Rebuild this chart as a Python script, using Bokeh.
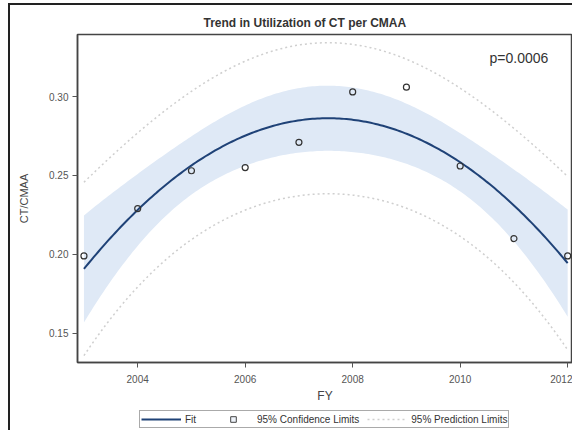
import numpy as np
from bokeh.plotting import figure
from bokeh.layouts import column
from bokeh.models import Legend, LegendItem, FixedTicker, Label, Title, NumeralTickFormatter
from bokeh.embed import file_html
from bokeh.resources import INLINE

# ---- data ----
fy = [2003, 2004, 2005, 2006, 2007, 2008, 2009, 2010, 2011, 2012]
ct_per_cmaa = [0.199, 0.229, 0.253, 0.255, 0.271, 0.303, 0.306, 0.256, 0.210, 0.199]
x_ticks = [2004, 2006, 2008, 2010, 2012]
y_ticks = [0.15, 0.20, 0.25, 0.30]
p_text = "p=0.0006"
t_crit = 2.3646  # t(0.975, df=7)

# ---- quadratic regression fit with 95% confidence and prediction limits ----
xa = np.array(fy, dtype=float)
ya = np.array(ct_per_cmaa, dtype=float)
xc = xa.mean()
X = np.column_stack([np.ones_like(xa), xa - xc, (xa - xc) ** 2])
beta, *_ = np.linalg.lstsq(X, ya, rcond=None)
resid = ya - X @ beta
s2 = resid @ resid / (len(xa) - 3)
XtX_inv = np.linalg.inv(X.T @ X)
xg = np.linspace(min(fy), max(fy), 200)
G = np.column_stack([np.ones_like(xg), xg - xc, (xg - xc) ** 2])
fit = G @ beta
h = np.einsum("ij,jk,ik->i", G, XtX_inv, G)
ci = t_crit * np.sqrt(s2 * h)
pi = t_crit * np.sqrt(s2 * (1 + h))

FONT = "Liberation Sans"
FIT_COLOR = "#1f4277"
BAND_COLOR = "#dfe9f6"
PL_COLOR = "#cfcfcf"

p = figure(frame_width=495, frame_height=328, output_backend="svg", toolbar_location=None,
           x_range=(2002.88, 2012.09), y_range=(0.1314, 0.3394),
           min_border_left=67, min_border_right=0, min_border_top=29, min_border_bottom=46)
p.background_fill_color = "white"
p.border_fill_color = "white"
p.outline_line_color = "#444"
p.outline_line_width = 1.5
p.grid.visible = False

t = Title(text="Trend in Utilization of CT per CMAA", align="left", offset=126,
          text_font=FONT, text_font_size="12px", text_font_style="bold",
          text_color="#333333", standoff=9)
p.add_layout(t, "above")

p.varea(x=xg, y1=fit - ci, y2=fit + ci, fill_color=BAND_COLOR, fill_alpha=1.0)
p.line(xg, fit + pi, line_color=PL_COLOR, line_dash="2 3", line_width=1.5)
p.line(xg, fit - pi, line_color=PL_COLOR, line_dash="2 3", line_width=1.5)
p.line(xg, fit, line_color=FIT_COLOR, line_width=2)
p.scatter(fy, ct_per_cmaa, marker="circle", size=6, fill_color=None,
          line_color="#333333", line_width=1.2)

p.add_layout(Label(x=2011.64, y=0.3248, text=p_text, text_align="right",
                   text_baseline="middle", text_font=FONT, text_font_size="14px",
                   text_color="#333333"))

for ax in (p.xaxis, p.yaxis):
    ax.axis_line_color = "#444"
    ax.axis_line_width = 1.5
    ax.major_tick_line_color = "#555"
    ax.major_tick_out = 5
    ax.major_tick_in = 0
    ax.minor_tick_line_color = None
    ax.major_label_text_font = FONT
    ax.major_label_text_font_size = "10px"
    ax.major_label_text_color = "#555555"
    ax.axis_label_text_font = FONT
    ax.axis_label_text_font_style = "normal"
    ax.axis_label_text_color = "#444444"

p.xaxis.ticker = FixedTicker(ticks=x_ticks)
p.yaxis.ticker = FixedTicker(ticks=y_ticks)
p.yaxis.formatter = NumeralTickFormatter(format="0.00")
p.xaxis.axis_label = "FY"
p.xaxis.axis_label_text_font_size = "12px"
p.xaxis.major_label_standoff = 7
p.xaxis.axis_label_standoff = 3
p.yaxis.axis_label = "CT/CMAA"
p.yaxis.axis_label_text_font_size = "11px"
p.yaxis.major_label_standoff = 4
p.yaxis.axis_label_standoff = 16

# ---- legend strip (separate small figure; its proxy renderers are hidden) ----
lg = figure(frame_width=495, frame_height=22, output_backend="svg", toolbar_location=None,
            x_axis_type=None, y_axis_type=None,
            min_border_left=67, min_border_right=0, min_border_top=0, min_border_bottom=0)
lg.outline_line_color = None
lg.grid.visible = False
lg.background_fill_color = "white"
lg.border_fill_color = "white"
r_fit = lg.line(xg, fit, line_color=FIT_COLOR, line_width=2, visible=False)
r_ci = lg.scatter(fy, ct_per_cmaa, marker="square", size=0, fill_color="#eef3fa",
                  line_color="#444444", line_width=1, visible=False)
r_pl = lg.line(xg, fit + pi, line_color=PL_COLOR, line_dash="2 3", line_width=1.5, visible=False)

legend = Legend(items=[
    LegendItem(label="Fit", renderers=[r_fit]),
    LegendItem(label="95% Confidence Limits", renderers=[r_ci]),
    LegendItem(label="95% Prediction Limits", renderers=[r_pl]),
], orientation="horizontal", location=(62, 2),
    label_text_font=FONT, label_text_font_size="10px", label_text_color="#333333",
    glyph_width=40, glyph_height=14, label_height=12, label_standoff=4,
    spacing=8, padding=1, margin=0,
    border_line_color="#555555", border_line_width=1,
    background_fill_color="white")
lg.add_layout(legend, "center")

layout = column(p, lg, spacing=0)
layout.styles = {"border-left": "2px solid #222222", "border-top": "2px solid #222222",
                 "margin-left": "8px", "margin-top": "3px"}

open("out.html", "w").write(file_html(layout, INLINE))
